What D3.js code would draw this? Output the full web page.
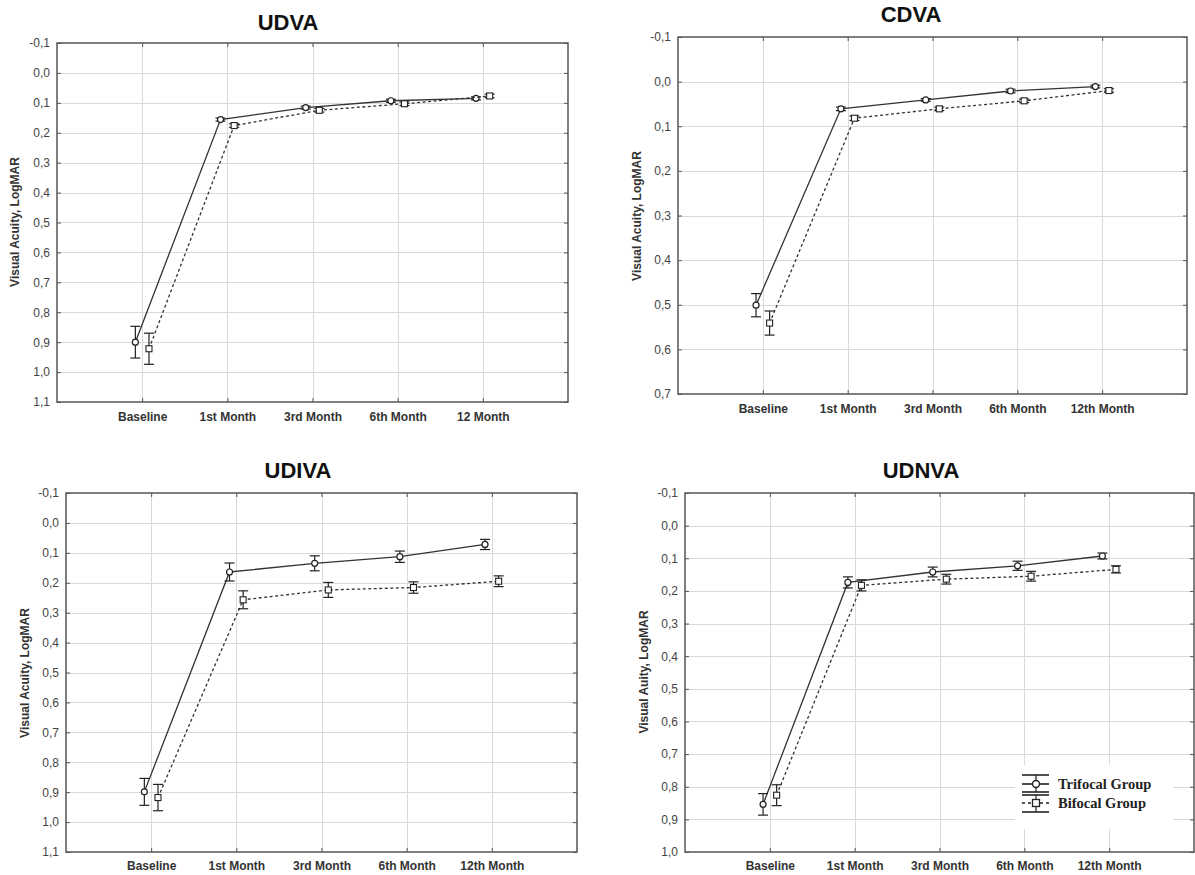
<html>
<head>
  <meta charset="utf-8">
  <title>Visual Acuity</title>
  <script src="https://cdnjs.cloudflare.com/ajax/libs/d3/7.8.5/d3.min.js"></script>
  <style>
    body { margin: 0; background: #fff; font-family: "Liberation Sans", Arial, sans-serif; }
    .grid line { stroke: #d9d9d9; stroke-width: 1; }
    .frame { fill: none; stroke: #555; stroke-width: 1.5; }
    .tick-label { font-size: 12px; fill: #444; }
    .cat-label { font-size: 12px; font-weight: bold; fill: #333; }
    .ylabel { font-size: 12px; font-weight: bold; fill: #333; }
    .title { font-size: 22px; font-weight: bold; fill: #111; }
  </style>
</head>
<body>
  <div id="chart"></div>
  <script>
    // categories
    var categories = ["Baseline", "1st Month", "3rd Month", "6th Month", "12th Month"];
    var categoriesUdva = ["Baseline", "1st Month", "3rd Month", "6th Month", "12 Month"];

    // y tick values
    var ticks11 = [-0.1, 0.0, 0.1, 0.2, 0.3, 0.4, 0.5, 0.6, 0.7, 0.8, 0.9, 1.0, 1.1];
    var ticks07 = [-0.1, 0.0, 0.1, 0.2, 0.3, 0.4, 0.5, 0.6, 0.7];
    var ticks10 = [-0.1, 0.0, 0.1, 0.2, 0.3, 0.4, 0.5, 0.6, 0.7, 0.8, 0.9, 1.0];

    // UDVA
    var udvaTri = [0.900, 0.156, 0.116, 0.093, 0.085];
    var udvaTriErr = [0.053, 0.005, 0.005, 0.005, 0.005];
    var udvaBi = [0.922, 0.176, 0.125, 0.103, 0.077];
    var udvaBiErr = [0.052, 0.006, 0.006, 0.006, 0.006];

    // CDVA
    var cdvaTri = [0.501, 0.061, 0.041, 0.021, 0.011];
    var cdvaTriErr = [0.026, 0.004, 0.003, 0.004, 0.003];
    var cdvaBi = [0.541, 0.082, 0.061, 0.043, 0.020];
    var cdvaBiErr = [0.027, 0.005, 0.004, 0.004, 0.004];

    // UDIVA
    var udivaTri = [0.899, 0.164, 0.135, 0.113, 0.072];
    var udivaTriErr = [0.045, 0.030, 0.025, 0.019, 0.017];
    var udivaBi = [0.918, 0.257, 0.224, 0.216, 0.195];
    var udivaBiErr = [0.044, 0.030, 0.025, 0.019, 0.018];

    // UDNVA
    var udnvaTri = [0.854, 0.174, 0.142, 0.123, 0.093];
    var udnvaTriErr = [0.033, 0.017, 0.015, 0.014, 0.009];
    var udnvaBi = [0.826, 0.183, 0.164, 0.155, 0.134];
    var udnvaBiErr = [0.032, 0.017, 0.015, 0.015, 0.011];

    var legendLabels = ["Trifocal Group", "Bifocal Group"];

    var svg = d3.select("#chart").append("svg")
      .attr("width", 1195)
      .attr("height", 875);

    // comma decimals, plain hyphen for minus
    var fmt = function(d) { return d3.format(".1f")(d).replace("\u2212", "-").replace(".", ","); };

    function drawPanel(p) {
      var g = svg.append("g");
      var x = d3.scaleLinear().domain([0, p.cats.length + 1]).range([p.left, p.right]);
      var y = d3.scaleLinear().domain([p.ticks[0], p.ticks[p.ticks.length - 1]]).range([p.top, p.bottom]);

      // grid
      var grid = g.append("g").attr("class", "grid");
      grid.selectAll(".h").data(p.ticks.slice(1, -1)).enter().append("line")
        .attr("x1", p.left).attr("x2", p.right)
        .attr("y1", function(d) { return Math.round(y(d)) + 0.5; })
        .attr("y2", function(d) { return Math.round(y(d)) + 0.5; });
      grid.selectAll(".v").data(p.cats).enter().append("line")
        .attr("y1", p.top).attr("y2", p.bottom)
        .attr("x1", function(d, i) { return Math.round(x(i + 1)) + 0.5; })
        .attr("x2", function(d, i) { return Math.round(x(i + 1)) + 0.5; });

      // axes with inner ticks
      var axL = d3.axisLeft(y).tickValues(p.ticks).tickSize(-4).tickPadding(7).tickFormat(fmt);
      var gl = g.append("g").attr("transform", "translate(" + p.left + ",0)").call(axL);
      gl.select(".domain").remove();
      gl.selectAll("line").attr("stroke", "#555");
      gl.selectAll("text").attr("class", "tick-label").attr("fill", null);
      gl.attr("font-family", null).attr("font-size", null);

      var axR = d3.axisRight(y).tickValues(p.ticks).tickSize(-4).tickFormat("");
      var gr = g.append("g").attr("transform", "translate(" + p.right + ",0)").call(axR);
      gr.select(".domain").remove();
      gr.selectAll("line").attr("stroke", "#555");

      var catIdx = p.cats.map(function(d, i) { return i + 1; });
      var axB = d3.axisBottom(x).tickValues(catIdx).tickSize(-4).tickPadding(p.labelPad)
        .tickFormat(function(d) { return p.cats[d - 1]; });
      var gb = g.append("g").attr("transform", "translate(0," + p.bottom + ")").call(axB);
      gb.select(".domain").remove();
      gb.selectAll("line").attr("stroke", "#555");
      gb.selectAll("text").attr("class", "cat-label").attr("fill", null);
      gb.attr("font-family", null).attr("font-size", null);

      var axT = d3.axisTop(x).tickValues(catIdx).tickSize(-4).tickFormat("");
      var gt = g.append("g").attr("transform", "translate(0," + p.top + ")").call(axT);
      gt.select(".domain").remove();
      gt.selectAll("line").attr("stroke", "#555");

      g.append("rect").attr("class", "frame")
        .attr("x", p.left).attr("y", p.top)
        .attr("width", p.right - p.left).attr("height", p.bottom - p.top);

      // title and y label
      g.append("text").attr("class", "title")
        .attr("x", p.titleX).attr("y", p.titleY)
        .attr("text-anchor", "middle").text(p.title);
      g.append("text").attr("class", "ylabel")
        .attr("transform", "translate(" + p.ylabX + "," + p.ylabY + ") rotate(-90)")
        .attr("text-anchor", "middle").attr("dy", "0.35em").text(p.ylabel);

      // series
      var series = [
        { vals: p.tri, err: p.triErr, off: -0.08, dash: null, shape: "circle" },
        { vals: p.bi, err: p.biErr, off: 0.08, dash: "3,2.5", shape: "square" }
      ];
      series.forEach(function(s) {
        var pts = s.vals.map(function(v, i) { return { x: x(i + 1 + s.off), y: y(v), lo: y(v - s.err[i]), hi: y(v + s.err[i]) }; });
        var line = d3.line().x(function(d) { return d.x; }).y(function(d) { return d.y; });
        g.append("path").datum(pts)
          .attr("d", line)
          .attr("fill", "none")
          .attr("stroke", "#333")
          .attr("stroke-width", 1.3)
          .attr("stroke-dasharray", s.dash);

        var eb = g.append("g").attr("stroke", "#222").attr("stroke-width", 1.2);
        eb.selectAll(".ev").data(pts).enter().append("line")
          .attr("x1", function(d) { return d.x; }).attr("x2", function(d) { return d.x; })
          .attr("y1", function(d) { return d.lo; }).attr("y2", function(d) { return d.hi; });
        eb.selectAll(".ct").data(pts).enter().append("line")
          .attr("x1", function(d) { return d.x - 5; }).attr("x2", function(d) { return d.x + 5; })
          .attr("y1", function(d) { return d.lo; }).attr("y2", function(d) { return d.lo; });
        eb.selectAll(".cb").data(pts).enter().append("line")
          .attr("x1", function(d) { return d.x - 5; }).attr("x2", function(d) { return d.x + 5; })
          .attr("y1", function(d) { return d.hi; }).attr("y2", function(d) { return d.hi; });

        if (s.shape === "circle") {
          g.selectAll(null).data(pts).enter().append("circle")
            .attr("cx", function(d) { return d.x; }).attr("cy", function(d) { return d.y; })
            .attr("r", 3).attr("fill", "#fff").attr("stroke", "#222").attr("stroke-width", 1.2);
        } else {
          g.selectAll(null).data(pts).enter().append("rect")
            .attr("x", function(d) { return d.x - 3; }).attr("y", function(d) { return d.y - 3; })
            .attr("width", 6).attr("height", 6)
            .attr("fill", "#fff").attr("stroke", "#222").attr("stroke-width", 1.1);
        }
      });
      return g;
    }

    drawPanel({ title: "UDVA", cats: categoriesUdva, ticks: ticks11,
      tri: udvaTri, triErr: udvaTriErr, bi: udvaBi, biErr: udvaBiErr,
      left: 57, right: 568, top: 43, bottom: 402, labelPad: 10,
      titleX: 288, titleY: 30, ylabX: 15, ylabY: 222, ylabel: "Visual Acuity, LogMAR" });

    drawPanel({ title: "CDVA", cats: categories, ticks: ticks07,
      tri: cdvaTri, triErr: cdvaTriErr, bi: cdvaBi, biErr: cdvaBiErr,
      left: 678, right: 1187, top: 37, bottom: 394, labelPad: 10,
      titleX: 911, titleY: 22, ylabX: 637, ylabY: 216, ylabel: "Visual Acuity, LogMAR" });

    drawPanel({ title: "UDIVA", cats: categories, ticks: ticks11,
      tri: udivaTri, triErr: udivaTriErr, bi: udivaBi, biErr: udivaBiErr,
      left: 66, right: 577, top: 493, bottom: 852, labelPad: 9,
      titleX: 298, titleY: 478, ylabX: 25, ylabY: 673, ylabel: "Visual Acuity, LogMAR" });

    var last = drawPanel({ title: "UDNVA", cats: categories, ticks: ticks10,
      tri: udnvaTri, triErr: udnvaTriErr, bi: udnvaBi, biErr: udnvaBiErr,
      left: 685, right: 1194, top: 493, bottom: 852, labelPad: 9,
      titleX: 921, titleY: 478, ylabX: 644, ylabY: 672, ylabel: "Visual Auity, LogMAR" });

    // legend
    var lg = last.append("g");
    lg.append("rect").attr("x", 1015).attr("y", 765).attr("width", 158).attr("height", 64).attr("fill", "#fff");
    var legendRows = [
      { top: 775, mid: 784, bot: 792, dash: null, shape: "circle" },
      { top: 795, mid: 803, bot: 812, dash: "3,3", shape: "square" }
    ];
    legendRows.forEach(function(r, i) {
      var row = lg.append("g").attr("stroke", "#222");
      row.append("line").attr("x1", 1022).attr("x2", 1049).attr("y1", r.top).attr("y2", r.top).attr("stroke-width", 1.6);
      row.append("line").attr("x1", 1022).attr("x2", 1049).attr("y1", r.bot).attr("y2", r.bot).attr("stroke-width", 1.6);
      row.append("line").attr("x1", 1036).attr("x2", 1036).attr("y1", r.top).attr("y2", r.bot).attr("stroke-width", 1.2);
      row.append("line").attr("x1", 1022).attr("x2", 1049).attr("y1", r.mid).attr("y2", r.mid)
        .attr("stroke-width", 1.6).attr("stroke-dasharray", r.dash);
      if (r.shape === "circle") {
        row.append("circle").attr("cx", 1036).attr("cy", r.mid).attr("r", 3.5).attr("fill", "#fff").attr("stroke-width", 1.4);
      } else {
        row.append("rect").attr("x", 1032.5).attr("y", r.mid - 3.5).attr("width", 7).attr("height", 7).attr("fill", "#fff").attr("stroke-width", 1.3);
      }
      lg.append("text").attr("x", 1058).attr("y", r.mid + 5)
        .style("font-family", "'Liberation Serif', 'Times New Roman', serif")
        .style("font-size", "14.5px").style("font-weight", "bold").attr("fill", "#222")
        .text(legendLabels[i]);
    });
  </script>
</body>
</html>
